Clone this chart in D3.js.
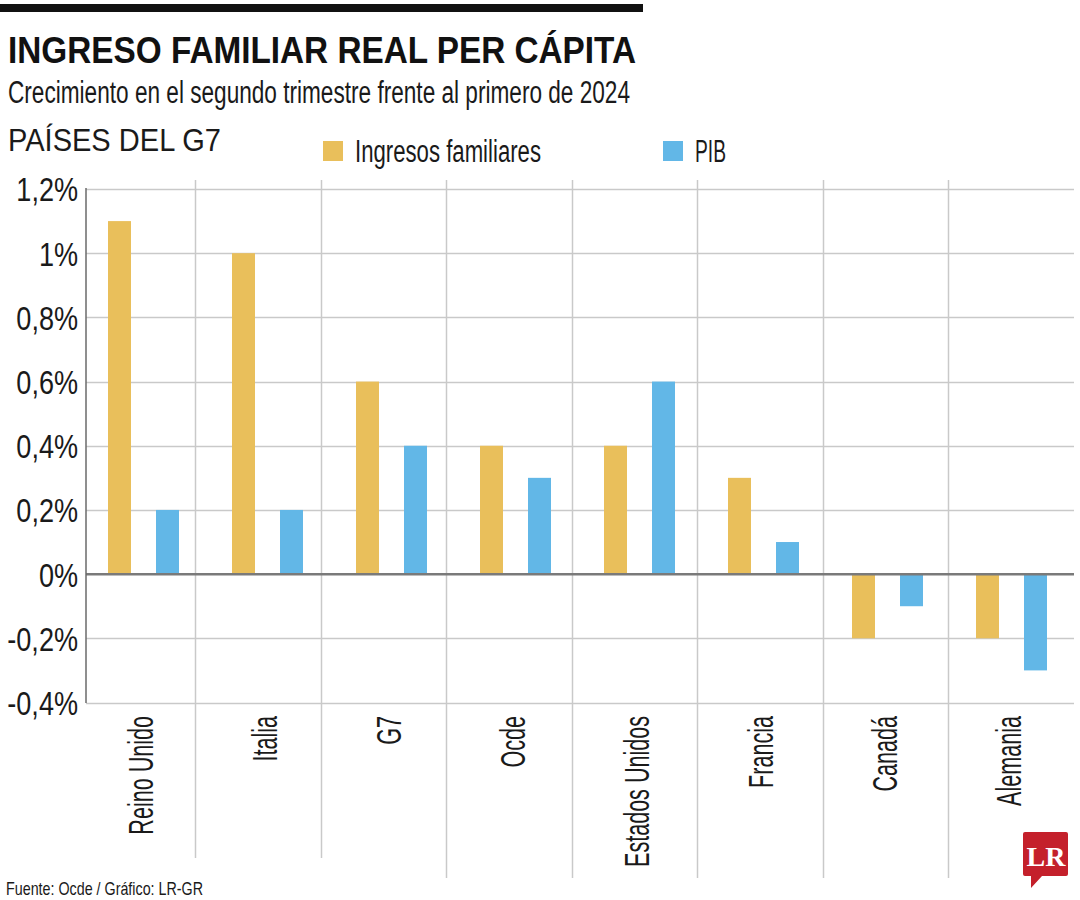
<!DOCTYPE html>
<html>
<head>
<meta charset="utf-8">
<script src="https://cdn.jsdelivr.net/npm/d3@7"></script>
<style>
  html, body { margin: 0; padding: 0; background: #fff; }
  svg { display: block; }
  text { font-family: "Liberation Sans Narrow", "Arial Narrow", "Liberation Sans", sans-serif; fill: #1a1a1a; }
</style>
</head>
<body>
<script>
// ---- data ----
const categories = ["Reino Unido", "Italia", "G7", "Ocde", "Estados Unidos", "Francia", "Canadá", "Alemania"];
const seriesNames = ["Ingresos familiares", "PIB"];
const ingresos = [1.1, 1.0, 0.6, 0.4, 0.4, 0.3, -0.2, -0.2];
const pib = [0.2, 0.2, 0.4, 0.3, 0.6, 0.1, -0.1, -0.3];
const yTicks = [-0.4, -0.2, 0, 0.2, 0.4, 0.6, 0.8, 1, 1.2];
const colors = ["#E9BF5B", "#62B7E7"];

const W = 1080, H = 900;
const svg = d3.select("body").append("svg").attr("width", W).attr("height", H);

function fit(sel, w) {
  sel.attr("textLength", w).attr("lengthAdjust", "spacingAndGlyphs");
}

// top black rule
svg.append("rect").attr("x", 0).attr("y", 4).attr("width", 643).attr("height", 8).attr("fill", "#111");

// titles
fit(svg.append("text").attr("x", 8).attr("y", 63).attr("font-size", 37).attr("font-weight", "bold")
  .style("fill", "#111").text("INGRESO FAMILIAR REAL PER CÁPITA"), 628);
fit(svg.append("text").attr("x", 8).attr("y", 103).attr("font-size", 31)
  .text("Crecimiento en el segundo trimestre frente al primero de 2024"), 622);
fit(svg.append("text").attr("x", 8).attr("y", 151).attr("font-size", 32)
  .text("PAÍSES DEL G7"), 213);

// legend
const legendX = [323, 663];
const legendW = [186, 31];
seriesNames.forEach((s, i) => {
  svg.append("rect").attr("x", legendX[i]).attr("y", 141).attr("width", 20).attr("height", 20).attr("fill", colors[i]);
  fit(svg.append("text").attr("x", legendX[i] + 32).attr("y", 162).attr("font-size", 31).text(s), legendW[i]);
});

// scales
const left = 86, right = 1074;
const y = d3.scaleLinear().domain([-0.4, 1.2]).range([702.5, 189]);
const x = d3.scaleBand().domain(categories).range([81.5, 1073.5]);
const x1 = d3.scaleBand().domain(seriesNames).range([26.5, 97.5]).paddingInner(0.521);
const gridX = d3.scaleBand().domain(categories).range([69.5, 1073.5]);

// horizontal gridlines
svg.append("g").selectAll("line").data(yTicks.filter(d => d !== 0)).join("line")
  .attr("x1", left).attr("x2", right)
  .attr("y1", d => Math.round(y(d)) + 0.5).attr("y2", d => Math.round(y(d)) + 0.5)
  .attr("stroke", "#c9c9c9").attr("stroke-width", 1.5);

// vertical separators
svg.append("g").selectAll("line").data(categories.slice(1)).join("line")
  .attr("x1", d => Math.round(gridX(d)) + 0.5).attr("x2", d => Math.round(gridX(d)) + 0.5)
  .attr("y1", 180).attr("y2", (d, i) => i < 2 ? 858 : 878)
  .attr("stroke", "#c9c9c9").attr("stroke-width", 1.5);

// bars
const rows = categories.map((c, i) => ({ c, vals: [ingresos[i], pib[i]] }));
const groups = svg.append("g").selectAll("g").data(rows).join("g")
  .attr("transform", d => `translate(${x(d.c)},0)`);
groups.selectAll("rect").data(d => d.vals.map((v, j) => ({ v, s: seriesNames[j], j }))).join("rect")
  .attr("x", d => x1(d.s))
  .attr("width", x1.bandwidth())
  .attr("y", d => Math.min(y(d.v), y(0)))
  .attr("height", d => Math.abs(y(d.v) - y(0)))
  .attr("fill", d => colors[d.j]);

// zero line
svg.append("line").attr("x1", left).attr("x2", right).attr("y1", y(0)).attr("y2", y(0))
  .attr("stroke", "#7a7a7a").attr("stroke-width", 2.5);

// y axis
const loc = d3.formatLocale({ decimal: ",", thousands: ".", grouping: [3], currency: ["", ""], minus: "-" });
const fmt = loc.format(".1~f");
const yAxis = d3.axisLeft(y).tickValues(yTicks).tickSize(0).tickPadding(8).tickFormat(d => fmt(d) + "%");
const gy = svg.append("g").attr("transform", `translate(${left},0)`).call(yAxis);
gy.select(".domain").remove();
gy.selectAll("text").attr("font-size", 33).attr("font-family", null).style("fill", "#1a1a1a").attr("dy", "0.36em");
gy.selectAll("text").each(function () {
  const w = this.getComputedTextLength();
  fit(d3.select(this), w * 0.82);
});
svg.append("line").attr("x1", left).attr("x2", left).attr("y1", 188).attr("y2", 703)
  .attr("stroke", "#6a6a6a").attr("stroke-width", 1.5);

// category labels
const labG = svg.append("g");
const labs = labG.selectAll("text").data(categories).join("text")
  .attr("transform", d => `translate(${x(d) + x.bandwidth() / 2 + 9},716) rotate(-90)`)
  .attr("text-anchor", "end")
  .attr("font-size", 35)
  .text(d => d);
let factor = 1;
labs.each(function (d) { if (d === "Estados Unidos") factor = 151 / this.getComputedTextLength(); });
labs.each(function () { fit(d3.select(this), this.getComputedTextLength() * factor); });

// footer
fit(svg.append("text").attr("x", 6).attr("y", 895).attr("font-size", 19)
  .text("Fuente: Ocde / Gráfico: LR-GR"), 197);

// LR logo
const logo = svg.append("g");
logo.append("path")
  .attr("d", "M1025,832 H1066 Q1068,832 1068,834 V874 Q1068,876 1066,876 H1042 L1031,888 L1031,876 H1025 Q1023,876 1023,874 V834 Q1023,832 1025,832 Z")
  .attr("fill", "#C4202B");
logo.append("text").attr("x", 1046).attr("y", 866).attr("text-anchor", "middle")
  .style("font-family", "'Liberation Serif', 'DejaVu Serif', serif").attr("font-weight", "bold").attr("font-size", 28)
  .style("fill", "#fff").text("LR");
</script>
</body>
</html>
